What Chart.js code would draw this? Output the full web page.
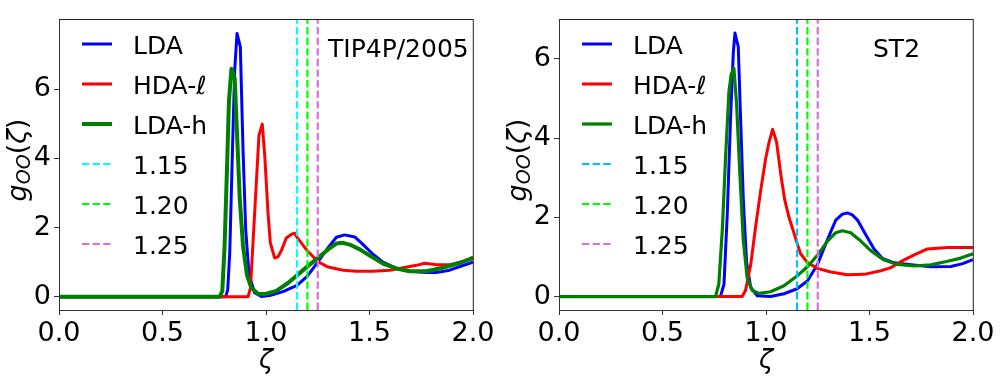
<!DOCTYPE html>
<html><head><meta charset="utf-8">
<script src="https://cdn.jsdelivr.net/npm/chart.js@4.4.1/dist/chart.umd.min.js"></script>
<style>
html,body{margin:0;padding:0;background:#fff;}
#wrap{display:flex;width:1000px;height:378px;}
.cell{position:relative;width:500px;height:378px;}
canvas{display:block;}
</style></head><body>
<div id="wrap">
<div class="cell"><canvas id="c1" width="500" height="378"></canvas></div>
<div class="cell"><canvas id="c2" width="500" height="378"></canvas></div>
</div>
<script>
// ---- tick labels / categories ----
const xTickValues = [0, 0.5, 1.0, 1.5, 2.0];
const xTickLabels = ['0.0', '0.5', '1.0', '1.5', '2.0'];
const yTickValues = [0, 2, 4, 6];
const yTickLabels = ['0', '2', '4', '6'];
const seriesNames = ['LDA', 'HDA-\u2113', 'LDA-h'];
const cutoffValues = [1.15, 1.20, 1.25];
const cutoffLabels = ['1.15', '1.20', '1.25'];
const panelTitles = ['TIP4P/2005', 'ST2'];

// ---- TIP4P/2005 panel ----
const tipLdaX = [0, 0.805, 0.815, 0.825, 0.838, 0.849, 0.86, 0.876, 0.889, 0.902, 0.918, 0.945, 0.978, 1.018, 1.082, 1.15, 1.2, 1.25, 1.3, 1.34, 1.38, 1.429, 1.469, 1.517, 1.565, 1.63, 1.694, 1.775, 1.823, 1.887, 1.944, 2.0];
const tipLdaY = [0, 0, 0.2, 1.28, 4.25, 6.57, 7.61, 7.22, 4.25, 1.93, 0.64, 0.12, 0.01, 0.04, 0.15, 0.33, 0.6, 1.0, 1.42, 1.72, 1.79, 1.73, 1.51, 1.23, 1.0, 0.82, 0.74, 0.7, 0.7, 0.77, 0.89, 1.0];
const tipHdaX = [0, 0.913, 0.925, 0.945, 0.966, 0.982, 0.994, 1.01, 1.021, 1.042, 1.058, 1.075, 1.098, 1.127, 1.139, 1.15, 1.2, 1.25, 1.3, 1.373, 1.437, 1.517, 1.598, 1.662, 1.727, 1.767, 1.823, 1.887, 1.952, 2.0];
const tipHdaY = [0, 0, 0.26, 2.4, 4.67, 4.99, 4.07, 2.4, 1.56, 1.12, 1.16, 1.35, 1.7, 1.82, 1.84, 1.72, 1.33, 1.02, 0.86, 0.77, 0.74, 0.74, 0.77, 0.84, 0.91, 0.97, 0.93, 0.93, 1.02, 1.15];
const tipLdhX = [0, 0.776, 0.789, 0.80, 0.812, 0.821, 0.833, 0.849, 0.86, 0.873, 0.889, 0.908, 0.929, 0.961, 0.993, 1.05, 1.106, 1.15, 1.2, 1.25, 1.3, 1.34, 1.373, 1.404, 1.453, 1.501, 1.565, 1.63, 1.694, 1.775, 1.855, 1.936, 2.0];
const tipLdhY = [0, 0, 0.17, 1.47, 3.79, 5.65, 6.59, 6.3, 4.72, 2.86, 1.47, 0.63, 0.26, 0.09, 0.08, 0.17, 0.4, 0.62, 0.88, 1.12, 1.37, 1.54, 1.56, 1.51, 1.37, 1.19, 0.96, 0.82, 0.74, 0.74, 0.84, 0.98, 1.12];

// ---- ST2 panel ----
const st2LdaX = [0, 0.78, 0.797, 0.813, 0.829, 0.842, 0.85, 0.866, 0.877, 0.89, 0.906, 0.926, 0.958, 1.022, 1.087, 1.148, 1.2, 1.248, 1.297, 1.337, 1.369, 1.393, 1.417, 1.442, 1.482, 1.522, 1.563, 1.619, 1.7, 1.796, 1.893, 1.95, 2.0];
const st2LdaY = [0, 0, 0.31, 2.09, 4.53, 6.15, 6.65, 6.31, 4.53, 2.5, 0.88, 0.23, 0.02, 0.0, 0.07, 0.19, 0.39, 0.8, 1.44, 1.93, 2.08, 2.11, 2.06, 1.93, 1.56, 1.2, 0.96, 0.85, 0.8, 0.75, 0.76, 0.83, 0.93];
const st2HdaX = [0, 0.885, 0.901, 0.926, 0.95, 0.974, 0.998, 1.014, 1.032, 1.051, 1.071, 1.09, 1.111, 1.135, 1.148, 1.167, 1.2, 1.248, 1.313, 1.393, 1.474, 1.555, 1.603, 1.651, 1.716, 1.78, 1.877, 2.0];
const st2HdaY = [0, 0, 0.15, 0.8, 1.77, 2.66, 3.47, 3.88, 4.22, 3.9, 3.1, 2.45, 2.0, 1.6, 1.38, 1.08, 0.86, 0.71, 0.62, 0.55, 0.56, 0.65, 0.73, 0.88, 1.05, 1.2, 1.24, 1.24];
const st2LdhX = [0, 0.756, 0.772, 0.789, 0.805, 0.821, 0.832, 0.845, 0.858, 0.874, 0.89, 0.909, 0.934, 0.966, 1.022, 1.087, 1.148, 1.2, 1.248, 1.297, 1.337, 1.369, 1.409, 1.458, 1.506, 1.571, 1.635, 1.716, 1.796, 1.877, 1.941, 2.0];
const st2LdhY = [0, 0, 0.31, 1.69, 3.55, 5.17, 5.62, 5.76, 4.85, 3.07, 1.44, 0.47, 0.15, 0.08, 0.12, 0.27, 0.51, 0.75, 1.04, 1.4, 1.61, 1.66, 1.61, 1.4, 1.16, 0.92, 0.81, 0.77, 0.8, 0.89, 0.97, 1.08];

// axis limits
const tipYRange = [-0.38, 8.02];
const st2YRange = [-0.34, 7.0];

const FONT = '"DejaVu Sans", "Liberation Sans", sans-serif';

function pts(xs, ys) { return xs.map((x, i) => ({x: x, y: ys[i]})); }

const panels = [
  { id: 'c1', title: panelTitles[0], titleX: 328, yr: tipYRange,
    series: [[tipLdaX, tipLdaY], [tipHdaX, tipHdaY], [tipLdhX, tipLdhY]],
    colors: ['#0000ff', '#ff0000', '#008000'], widths: [3, 3, 4],
    cutColors: ['#00ffff', '#00ff00', '#da70d6'] },
  { id: 'c2', title: panelTitles[1], titleX: 373, yr: st2YRange,
    series: [[st2LdaX, st2LdaY], [st2HdaX, st2HdaY], [st2LdhX, st2LdhY]],
    colors: ['#0000ff', '#ff0000', '#008000'], widths: [3, 3, 3.2],
    cutColors: ['#00bfff', '#00ff00', '#da70d6'] }
];

const DASH = [7.4, 3.2];

function drawYLabel(ctx, cx, cy) {
  const parts = [
    {t: 'g', f: 'italic 27px ' + FONT, dy: 0},
    {t: 'OO', f: 'italic 19px ' + FONT, dy: 4.5},
    {t: '(', f: '27px ' + FONT, dy: 0},
    {t: '\u03b6', f: 'italic 27px ' + FONT, dy: 0},
    {t: ')', f: '27px ' + FONT, dy: 0}
  ];
  ctx.save();
  ctx.translate(cx, cy);
  ctx.rotate(-Math.PI / 2);
  ctx.fillStyle = '#000';
  ctx.textBaseline = 'alphabetic';
  ctx.textAlign = 'left';
  let w = 0;
  parts.forEach(p => { ctx.font = p.f; p.w = ctx.measureText(p.t).width; w += p.w; });
  let u = -w / 2;
  parts.forEach(p => { ctx.font = p.f; ctx.fillText(p.t, u, p.dy); u += p.w; });
  ctx.restore();
}

const decorPlugin = {
  id: 'decor',
  afterDatasetsDraw(chart, args, opts) {
    const ctx = chart.ctx;
    const a = chart.chartArea;
    ctx.save();
    // frame
    ctx.lineWidth = 1;
    ctx.strokeStyle = '#333';
    ctx.beginPath(); ctx.moveTo(a.left + 0.5, a.top); ctx.lineTo(a.left + 0.5, a.bottom + 0.5); ctx.stroke();
    ctx.beginPath(); ctx.moveTo(a.left, a.bottom + 0.5); ctx.lineTo(a.right + 0.3, a.bottom + 0.5); ctx.stroke();
    ctx.strokeStyle = '#222';
    ctx.beginPath(); ctx.moveTo(a.left, a.top + 0.3); ctx.lineTo(a.right + 0.3, a.top + 0.3); ctx.stroke();
    ctx.beginPath(); ctx.moveTo(a.right + 0.3, a.top); ctx.lineTo(a.right + 0.3, a.bottom + 0.5); ctx.stroke();

    // legend
    const ds = chart.data.datasets;
    ctx.font = '25px ' + FONT;
    ctx.textBaseline = 'alphabetic';
    ctx.textAlign = 'left';
    ds.forEach((d, i) => {
      const yLine = 44 + 40 * i;
      ctx.save();
      ctx.strokeStyle = d.borderColor;
      ctx.lineWidth = d.borderWidth;
      ctx.setLineDash(d.borderDash || []);
      ctx.beginPath(); ctx.moveTo(82, yLine); ctx.lineTo(112, yLine); ctx.stroke();
      ctx.restore();
      ctx.fillStyle = '#000';
      ctx.fillText(d.label, 133, 54 + 40 * i);
    });

    // panel title
    ctx.fillStyle = '#000';
    ctx.font = '25px ' + FONT;
    ctx.fillText(opts.title, opts.titleX, 57);

    // x label
    ctx.font = 'italic 26px ' + FONT;
    ctx.textAlign = 'center';
    ctx.fillText('\u03b6', (a.left + a.right) / 2, 368);
    ctx.restore();

    drawYLabel(ctx, 25.7, 160);
  }
};

panels.forEach(p => {
  const datasets = [];
  p.series.forEach((s, i) => {
    datasets.push({
      label: seriesNames[i],
      data: pts(s[0], s[1]),
      borderColor: p.colors[i],
      backgroundColor: p.colors[i],
      borderWidth: p.widths[i],
      showLine: true, pointRadius: 0, tension: 0,
      borderJoinStyle: 'round',
      order: 10 - i
    });
  });
  cutoffValues.forEach((c, i) => {
    datasets.push({
      label: cutoffLabels[i],
      data: [{x: c, y: p.yr[0]}, {x: c, y: p.yr[1]}],
      borderColor: p.cutColors[i],
      backgroundColor: p.cutColors[i],
      borderWidth: 2.2,
      borderDash: DASH,
      showLine: true, pointRadius: 0, tension: 0,
      order: 5 - i
    });
  });

  new Chart(document.getElementById(p.id), {
    type: 'scatter',
    data: { datasets: datasets },
    options: {
      responsive: false,
      animation: false,
      events: [],
      layout: { padding: { left: 0, top: 8, right: 27, bottom: 0 } },
      plugins: {
        legend: { display: false },
        tooltip: { enabled: false },
        decor: { title: p.title, titleX: p.titleX }
      },
      scales: {
        x: {
          type: 'linear', min: 0, max: 2,
          afterBuildTicks: s => { s.ticks = xTickValues.map(v => ({value: v})); },
          afterFit: s => { s.height = 68; },
          ticks: {
            font: { family: FONT, size: 27 }, color: '#000', padding: 3,
            maxRotation: 0, autoSkip: false,
            callback: (v, i) => xTickLabels[i]
          },
          grid: { drawOnChartArea: false, drawTicks: true, tickLength: 5, color: '#333', lineWidth: 1 },
          border: { display: false }
        },
        y: {
          type: 'linear', min: p.yr[0], max: p.yr[1],
          afterBuildTicks: s => { s.ticks = yTickValues.map(v => ({value: v})); },
          afterFit: s => { s.width = 59; },
          ticks: {
            font: { family: FONT, size: 27 }, color: '#000', padding: 3,
            autoSkip: false,
            callback: (v, i) => yTickLabels[i]
          },
          grid: { drawOnChartArea: false, drawTicks: true, tickLength: 5, color: '#333', lineWidth: 1 },
          border: { display: false }
        }
      }
    },
    plugins: [decorPlugin]
  });
});
</script>
</body></html>
